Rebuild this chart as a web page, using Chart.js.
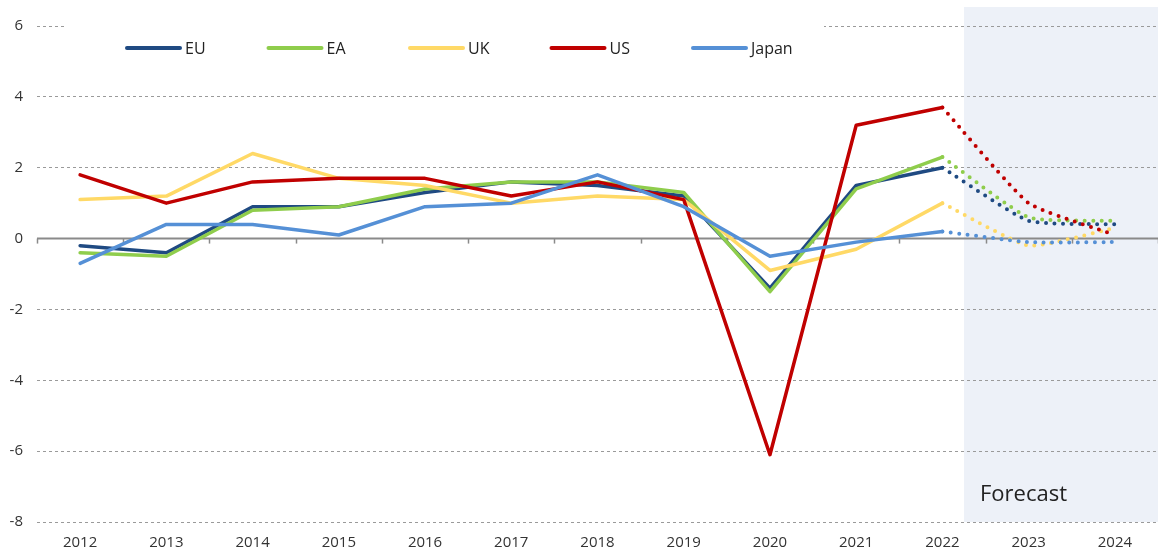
<!DOCTYPE html>
<html lang="en">
<head>
  <meta charset="UTF-8">
  <title>Outlook by economy</title>
  <script src="https://cdn.jsdelivr.net/npm/chart.js"></script>
  <style>
    body { margin: 0; background: #fff; }
    #wrap { position: relative; width: 1158px; height: 551px; }
  </style>
</head>
<body>
  <div id="wrap"><canvas id="chart"></canvas></div>
  <script>
    const years = ['2012', '2013', '2014', '2015', '2016', '2017', '2018', '2019', '2020', '2021', '2022', '2023', '2024'];
    const eu    = [-0.2, -0.4, 0.9, 0.9, 1.3, 1.6, 1.5, 1.2, -1.4, 1.5, 2.0, 0.5, 0.4];
    const ea    = [-0.4, -0.5, 0.8, 0.9, 1.4, 1.6, 1.6, 1.3, -1.5, 1.4, 2.3, 0.6, 0.5];
    const uk    = [1.1, 1.2, 2.4, 1.7, 1.5, 1.0, 1.2, 1.1, -0.9, -0.3, 1.0, -0.2, 0.3];
    const us    = [1.8, 1.0, 1.6, 1.7, 1.7, 1.2, 1.6, 1.1, -6.1, 3.2, 3.7, 1.0, 0.1];
    const japan = [-0.7, 0.4, 0.4, 0.1, 0.9, 1.0, 1.8, 0.9, -0.5, -0.1, 0.2, -0.1, -0.1];
    const yTicks = [-8, -6, -4, -2, 0, 2, 4, 6];
    const lastActual = 10; // 2022, later years are forecasts

    const series = [
      { label: 'EU', data: eu, color: '#1f4a82' },
      { label: 'EA', data: ea, color: '#8fcd4c' },
      { label: 'UK', data: uk, color: '#ffd966' },
      { label: 'US', data: us, color: '#c00000' },
      { label: 'Japan', data: japan, color: '#5590d6' }
    ];

    const datasets = [];
    series.forEach((s, i) => {
      const order = series.length - i;
      datasets.push({
        label: s.label,
        data: s.data.map((v, j) => j <= lastActual ? v : null),
        borderColor: s.color, order: order
      });
      datasets.push({
        label: s.label + ' forecast',
        data: s.data.map((v, j) => j >= lastActual ? v : null),
        borderColor: s.color, borderDash: [0, 8.5], borderWidth: 4, tension: 0.15, order: order
      });
    });

    const FONT = '"Open Sans", "Liberation Sans", sans-serif';

    const extras = {
      id: 'extras',
      beforeDraw(chart) {
        const { ctx, chartArea, scales: { x } } = chart;
        const step = x.getPixelForValue(1) - x.getPixelForValue(0);
        const left = x.getPixelForValue(lastActual) + step * 0.25;
        ctx.save();
        ctx.fillStyle = '#edf1f8';
        ctx.fillRect(left, chartArea.top - 19, chartArea.right - left, chartArea.bottom - chartArea.top + 19);
        ctx.fillStyle = '#222';
        ctx.font = '22px ' + FONT;
        ctx.textBaseline = 'middle';
        ctx.fillText('Forecast', left + 16, chartArea.bottom - 27);
        ctx.restore();
      },
      beforeDatasetsDraw(chart) {
        const { ctx, chartArea, scales: { x, y } } = chart;
        const step = x.getPixelForValue(1) - x.getPixelForValue(0);
        const y0 = y.getPixelForValue(0);
        ctx.save();
        // white box behind the legend
        ctx.fillStyle = '#fff';
        ctx.fillRect(chartArea.left + 27, chartArea.top - 10, 760, 50);
        // zero line with category ticks
        ctx.strokeStyle = '#8a8a8a';
        ctx.lineWidth = 2;
        ctx.beginPath();
        ctx.moveTo(chartArea.left, y0);
        ctx.lineTo(chartArea.right, y0);
        ctx.stroke();
        ctx.lineWidth = 1.5;
        for (let i = 0; i <= years.length; i++) {
          const px = Math.round(x.getPixelForValue(i) - step / 2) + 0.5;
          ctx.beginPath();
          ctx.moveTo(px, y0);
          ctx.lineTo(px, y0 + 5);
          ctx.stroke();
        }
        ctx.restore();
      },
      afterDraw(chart) {
        const { ctx, chartArea } = chart;
        const ly = chartArea.top + 22;
        ctx.save();
        ctx.font = '16px ' + FONT;
        ctx.textBaseline = 'middle';
        ctx.lineCap = 'round';
        ctx.lineWidth = 4;
        series.forEach((s, i) => {
          const lx = 127 + i * 141.5;
          ctx.strokeStyle = s.color;
          ctx.beginPath();
          ctx.moveTo(lx, ly);
          ctx.lineTo(lx + 53, ly);
          ctx.stroke();
          ctx.fillStyle = '#222';
          ctx.fillText(s.label, lx + 58, ly + 1);
        });
        ctx.restore();
      }
    };

    new Chart(document.getElementById('chart'), {
      type: 'line',
      data: { labels: years, datasets: datasets },
      plugins: [extras],
      options: {
        responsive: true,
        maintainAspectRatio: false,
        animation: false,
        layout: { padding: { top: 26, right: 0, left: 0, bottom: 0 } },
        elements: {
          point: { radius: 0 },
          line: { borderWidth: 3.5, borderJoinStyle: 'round', borderCapStyle: 'round', fill: false }
        },
        plugins: { legend: { display: false }, tooltip: { enabled: false } },
        scales: {
          x: {
            offset: true,
            grid: { display: false },
            border: { display: false },
            ticks: { color: '#333', font: { size: 15, family: FONT }, padding: 4, maxRotation: 0 },
            afterFit: s => { s.height = 29; }
          },
          y: {
            min: -8, max: 6,
            afterBuildTicks: s => { s.ticks = yTicks.map(v => ({ value: v })); },
            ticks: { color: '#333', font: { size: 15, family: FONT }, padding: 14 },
            grid: { color: '#9a9a9a', lineWidth: 1, drawTicks: false },
            border: { display: false, dash: [3, 3] },
            afterFit: s => { s.width = 37; }
          }
        }
      }
    });
  </script>
</body>
</html>
